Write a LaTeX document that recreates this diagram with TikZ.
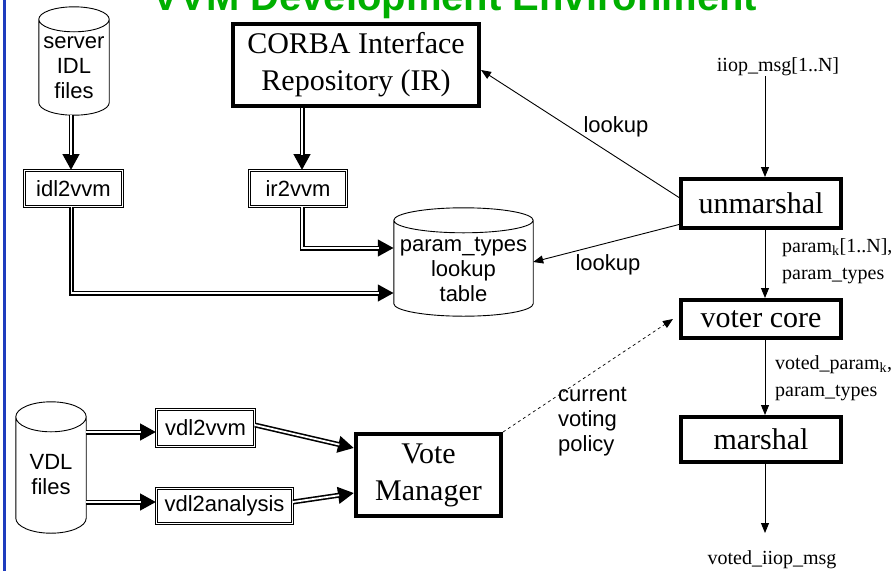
\documentclass[tikz,border=0pt]{standalone}
\usepackage{fontspec}
\setmainfont{Liberation Serif}
\setsansfont{Liberation Sans}
\usetikzlibrary{arrows.meta,calc}

\definecolor{titlegreen}{RGB}{0,175,0}
\definecolor{barblue}{RGB}{30,60,190}

\tikzset{
  tool/.style={draw, double, double distance=1.4pt, line width=0.8pt, fill=white,
    font=\sffamily\fontsize{22}{25}\selectfont, inner sep=0pt},
  unit/.style={draw, line width=4pt, fill=white, font=\fontsize{30}{37}\selectfont,
    align=center, inner sep=0pt},
  tank/.style={inner sep=0pt},
  tankline/.style={draw, fill=white, line width=0.9pt},
  tanktext/.style={font=\sffamily\fontsize{22}{25}\selectfont, align=center, inner sep=0pt},
  pipe/.style={line width=5pt, -{Triangle[length=16pt,width=16pt]},
    postaction={draw=white, line width=1.8pt, -, shorten >=15pt}},
  flow/.style={line width=0.9pt, -{Triangle[length=10pt,width=8pt]}},
  lbl/.style={font=\sffamily\fontsize{22}{25}\selectfont, align=left, inner sep=0pt},
  msg/.style={font=\fontsize{20}{27}\selectfont, align=left, inner sep=0pt}
}

% #1 node to wrap, #2 radius of the end ellipses
\newcommand{\drawtank}[2]{%
  \draw[tankline] let \p1=(#1.north west), \p2=(#1.south east), \n1={(\x2-\x1)/2} in
    ([yshift=-#2]#1.north west) -- ([yshift=#2]#1.south west)
    arc[start angle=180, end angle=360, x radius=\n1, y radius=#2]
    -- ([yshift=-#2]#1.north east)
    arc[start angle=0, end angle=180, x radius=\n1, y radius=#2] -- cycle
    ([yshift=-#2]#1.north west)
    arc[start angle=180, end angle=360, x radius=\n1, y radius=#2];
}

\begin{document}
\begin{tikzpicture}[x=1pt,y=-1pt]
  \useasboundingbox (0,0) rectangle (895,571);
  \draw[barblue, line width=3pt] (4.5,0) -- (4.5,571);
  \node[anchor=base, text=titlegreen, font=\sffamily\bfseries\fontsize{40}{40}\selectfont]
    (title) at (455,10) {VVM Development Environment};

  % sources and tools
  \node[tank, minimum width=70, minimum height=108] (srv) at (74,61) {};
  \drawtank{srv}{12.5pt}
  \node[tanktext] (srvt) at (74,68) {server\\IDL\\files};
  \node[unit, minimum width=246, minimum height=82] (ir) at (356,65) {CORBA Interface\\Repository (IR)};
  \node[tool, minimum width=98, minimum height=36] (idl) at (73.5,188.5) {idl2vvm};
  \node[tool, minimum width=97, minimum height=36] (irv) at (298,188.5) {ir2vvm};
  \node[tank, minimum width=139, minimum height=108] (ptab) at (463.5,262) {};
  \drawtank{ptab}{12.5pt}
  \node[tanktext] (ptabt) at (463.5,269) {param\_types\\lookup\\table};

  \node[tank, minimum width=70, minimum height=131] (vdl) at (51,467.5) {};
  \drawtank{vdl}{15pt}
  \node[tanktext] (vdlt) at (51,475) {VDL\\files};
  \node[tool, minimum width=98, minimum height=37] (vvm) at (205.5,428) {vdl2vvm};
  \node[tool, minimum width=136, minimum height=35] (ana) at (224.5,506) {vdl2analysis};
  \node[unit, minimum width=145, minimum height=82] (mgr) at (428.5,475) {Vote\\Manager};

  % voter chain
  \node[msg] (in) at (778,67) {iiop\_msg[1..N]};
  \node[unit, minimum width=160, minimum height=49] (unm) at (761,203.5) {unmarshal};
  \node[unit, minimum width=160, minimum height=38] (core) at (761,319) {voter core};
  \node[unit, minimum width=160, minimum height=45] (mar) at (761,439.5) {marshal};
  \node[msg] (out) at (772,560) {voted\_iiop\_msg};
  \coordinate (outend) at (765,533);

  % tool pipes
  \draw[pipe] ([xshift=-3pt]srv.south) -- ([xshift=-3pt]srv.south |- idl.north);
  \draw[pipe] ([xshift=4pt]irv.north |- ir.south) -- ([xshift=4pt]irv.north);
  \draw[pipe] ([xshift=4pt]irv.south) |- ([yshift=14pt]ptab.west);
  \draw[pipe] ([xshift=-2pt]idl.south) |- ([yshift=-31pt]ptab.west);
  \draw[pipe] (vdl.east |- vvm.west) ++(0,4) -- ([yshift=-4pt]vvm.west);
  \draw[pipe] (vdl.east |- ana.west) ++(0,-4) -- ([yshift=4pt]ana.west);
  \draw[pipe] ([yshift=3pt]vvm.east) -- ([yshift=27pt]mgr.west);
  \draw[pipe] ([yshift=4pt]ana.east) -- ([yshift=-18pt]mgr.west);

  % messages
  \draw[flow] ([xshift=4pt]in.south -| unm.north) -- ([xshift=4pt]unm.north);
  \draw[flow] ([xshift=4pt]unm.south) -- ([xshift=4pt]core.north);
  \draw[flow] ([xshift=4pt]core.south) -- ([xshift=4pt]mar.north);
  \draw[flow] ([xshift=4pt]mar.south) -- (outend);
  \draw[flow] ([yshift=6pt]unm.west) -- ([yshift=-5pt]ir.east);
  \draw[flow] ([yshift=-21pt]unm.west) -- (ptab.east);
  \draw[flow, dashed, line width=0.7pt] (mgr.north east) -- ([xshift=-6pt]core.west);

  \node[lbl] (lk1) at (616,127) {lookup};
  \node[lbl] (lk2) at (608,265) {lookup};
  \node[msg, anchor=west] (pk) at (782,261.5) {param$_{\mathrm{k}}$[1..N],\\param\_types};
  \node[msg, anchor=west] (vp) at (775,378.5) {voted\_param$_{\mathrm{k}}$,\\param\_types};
  \node[lbl, anchor=west] (pol) at (558,422) {current\\voting\\policy};
\end{tikzpicture}
\end{document}
